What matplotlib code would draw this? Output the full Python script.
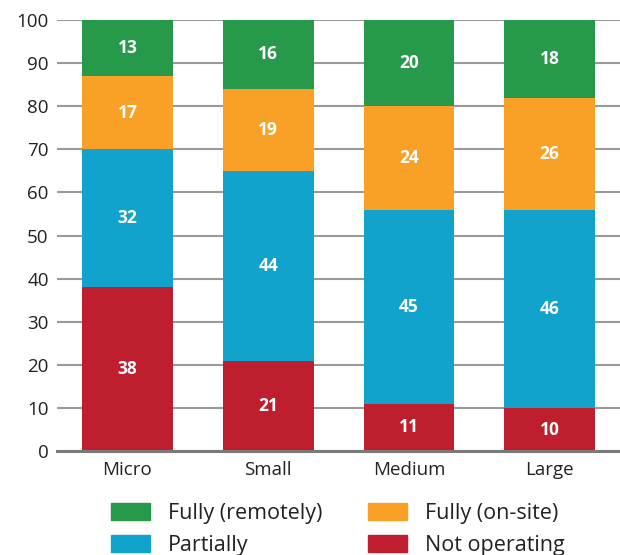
import matplotlib.pyplot as plt
import numpy as np
from matplotlib.patches import Patch

plt.rcParams['font.family'] = ['Open Sans', 'DejaVu Sans']

# share of firms by size class (percent)
sizes = ['Micro', 'Small', 'Medium', 'Large']
not_operating = [38, 21, 11, 10]
partially = [32, 44, 45, 46]
fully_onsite = [17, 19, 24, 26]
fully_remote = [13, 16, 20, 18]

series = [
    ('Not operating', not_operating, '#BE1E2D'),
    ('Partially', partially, '#11A3CC'),
    ('Fully (on-site)', fully_onsite, '#F8A126'),
    ('Fully (remotely)', fully_remote, '#27994A'),
]

fig = plt.figure(figsize=(6.2, 5.55), dpi=100)
ax = fig.add_axes([0.092, 0.187, 0.908, 0.777])

x = np.arange(len(sizes))
bottom = np.zeros(len(sizes))
for name, vals, col in series:
    vals = np.array(vals)
    ax.bar(x, vals, 0.645, bottom=bottom, color=col, zorder=3)
    for xi, b, v in zip(x, bottom, vals):
        ax.text(xi, b + v / 2, str(v), ha='center', va='center',
                color='white', fontsize=12.5, fontweight='bold', zorder=4)
    bottom += vals

ax.set_xlim(-0.5, 3.5)
ax.set_ylim(0, 100)
ax.set_yticks(range(0, 101, 10))
ax.set_xticks(x)
ax.set_xticklabels(sizes)
ax.yaxis.grid(True, color='#9A9A9A', linewidth=1.5, zorder=0)
ax.axhline(0, color='#7A7A7A', linewidth=2.2, zorder=5, clip_on=False)
for s in ax.spines.values():
    s.set_visible(False)
ax.tick_params(axis='both', length=0, labelsize=13.5, colors='#222222')
ax.tick_params(axis='y', pad=6)
ax.tick_params(axis='x', pad=7)
ax.margins(0)

handles = [Patch(color='#27994A', label='Fully (remotely)'),
           Patch(color='#11A3CC', label='Partially'),
           Patch(color='#F8A126', label='Fully (on-site)'),
           Patch(color='#BE1E2D', label='Not operating')]
fig.legend(handles=handles, ncol=2, loc='center', bbox_to_anchor=(0.545, 0.046),
           frameon=False, fontsize=15.5, handlelength=1.8, handleheight=0.8,
           handletextpad=0.85, columnspacing=2.1, labelspacing=0.5,
           labelcolor='#222222')

fig.savefig('out.png', dpi=100)
